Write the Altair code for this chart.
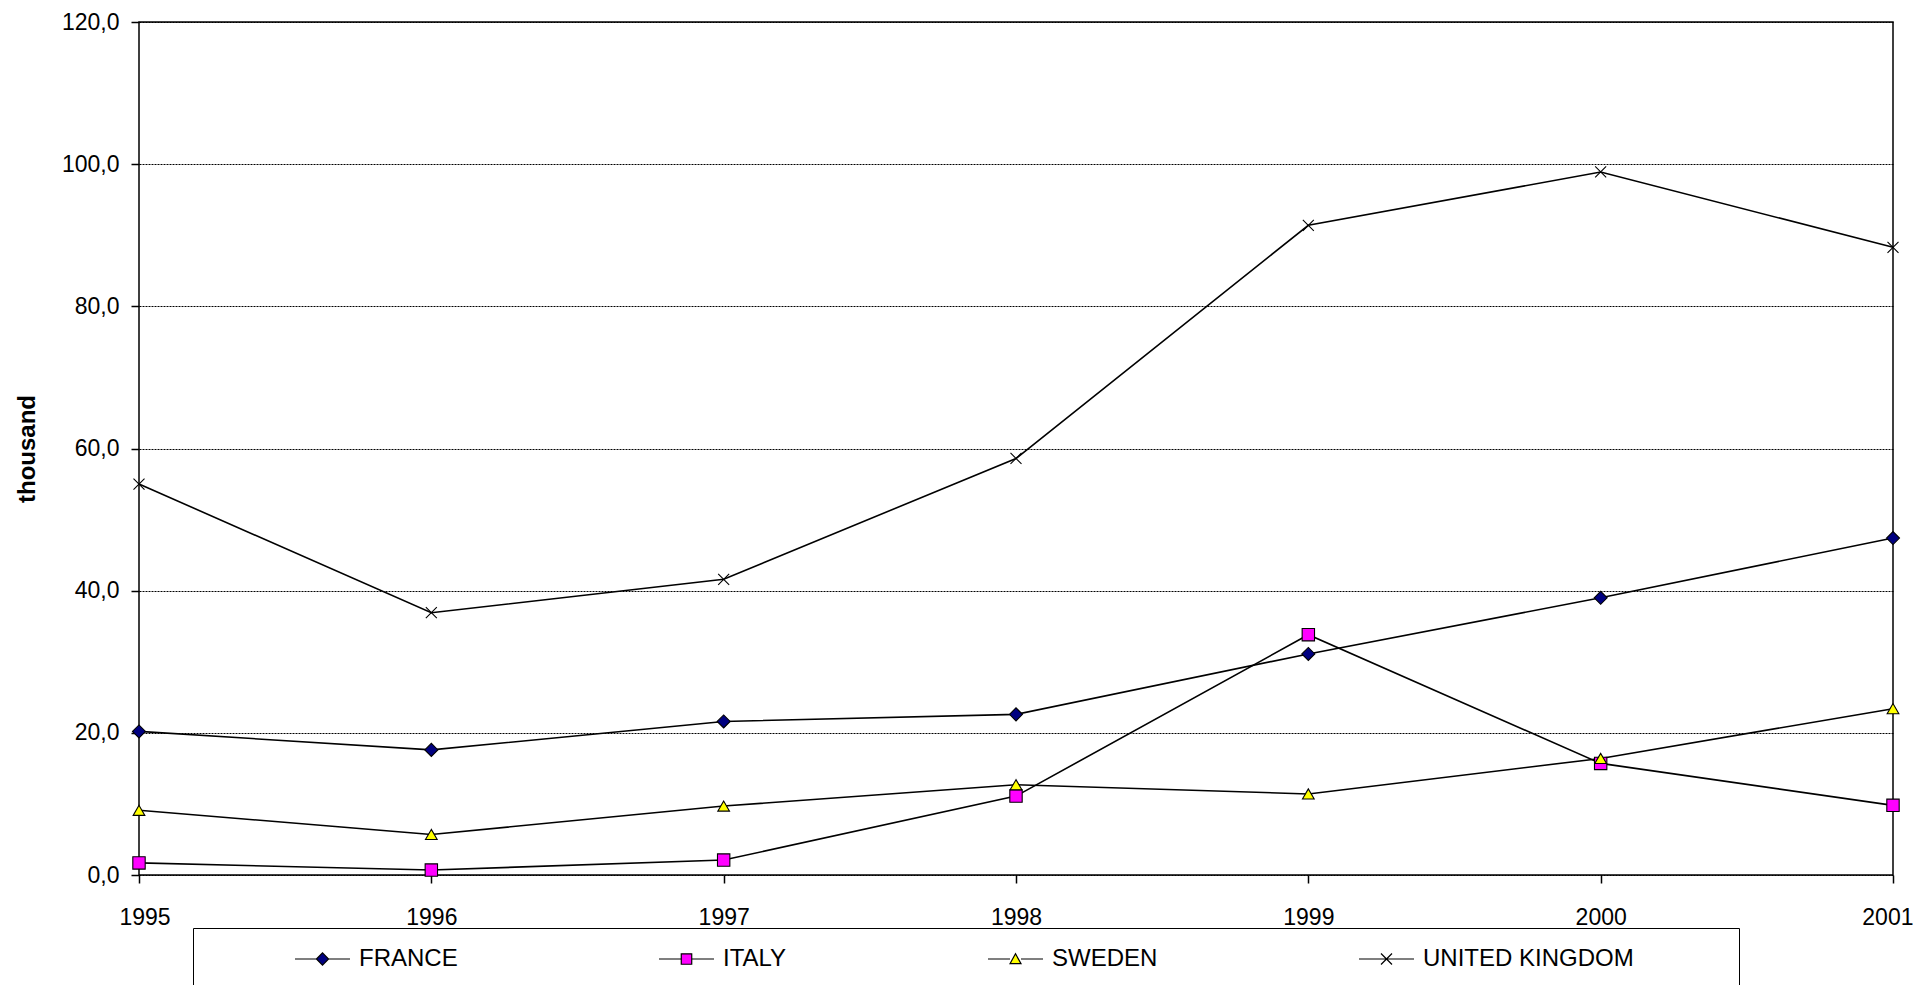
import altair as alt
import pandas as pd

years = [1995, 1996, 1997, 1998, 1999, 2000, 2001]
countries = ["FRANCE", "ITALY", "SWEDEN", "UNITED KINGDOM"]
france = [20.2, 17.6, 21.6, 22.6, 31.1, 39.0, 47.4]
italy = [1.7, 0.7, 2.1, 11.1, 33.8, 15.7, 9.8]
sweden = [9.1, 5.7, 9.7, 12.7, 11.4, 16.4, 23.4]
uk = [55.0, 36.9, 41.6, 58.6, 91.4, 98.9, 88.3]
y_ticks = [0, 20, 40, 60, 80, 100, 120]

series = {"FRANCE": france, "ITALY": italy, "SWEDEN": sweden, "UNITED KINGDOM": uk}
rows = []
for c in countries:
    for yr, v in zip(years, series[c]):
        rows.append({"year": yr, "value": v, "country": c})
df = pd.DataFrame(rows)

FONT = "Liberation Sans"
fills = ["#000080", "#FF00FF", "#FFFF00", "#000000"]
point_shapes = ["diamond", "square", "triangle-up", "M-1,-1L1,1M-1,1L1,-1"]
point_sizes = [169, 121, 121, 144]
legend_shapes = [
    "M-1,0L-0.22,0M-0.22,0L0,-0.22L0.22,0L0,0.22ZM0.22,0L1,0",
    "M-1,0L-0.19,0M-0.19,-0.19L0.19,-0.19L0.19,0.19L-0.19,0.19ZM0.19,0L1,0",
    "M-1,0L-0.2,0M-0.2,0.17L0,-0.19L0.2,0.17ZM0.2,0L1,0",
    "M-1,0L1,0M-0.2,-0.2L0.2,0.2M-0.2,0.2L0.2,-0.2",
]

x = alt.X(
    "year:Q",
    scale=alt.Scale(domain=[1995, 2001], nice=False, zero=False),
    axis=alt.Axis(
        values=years, format="d", title=None, grid=False, domain=False,
        tickSize=8, tickColor="black", tickWidth=1.5,
        labelFontSize=23, labelColor="black", labelPadding=23,
        labelFlush=True, labelFlushOffset=20,
        labelFont=FONT,
    ),
)
y = alt.Y(
    "value:Q",
    scale=alt.Scale(domain=[0, 120], nice=False),
    axis=alt.Axis(
        values=y_ticks, labelExpr="replace(format(datum.value, '.1f'), '.', ',')",
        grid=True, gridColor="black", gridDash=[2, 1], gridWidth=1,
        domain=False, tickSize=8, tickColor="black", tickWidth=1.5,
        labelFontSize=23, labelColor="black", labelPadding=12, labelFont=FONT,
        title="thousand", titleFontSize=24, titleFontWeight="bold", titleColor="black",
        titlePadding=22, titleFont=FONT,
    ),
)

lines = alt.Chart(df).mark_line(color="black", strokeWidth=1.6).encode(
    x=x, y=y, detail="country:N"
)

points = alt.Chart(df).mark_point(
    filled=True, stroke="black", strokeWidth=1.1, opacity=1
).encode(
    x=x, y=y,
    shape=alt.Shape("country:N", scale=alt.Scale(domain=countries, range=point_shapes), legend=None),
    fill=alt.Fill("country:N", scale=alt.Scale(domain=countries, range=fills), legend=None),
    size=alt.Size("country:N", scale=alt.Scale(domain=countries, range=point_sizes), legend=None),
)

# trailing blank room inside the legend frame after the last entry
pad_tail = "\u00a0" * 13 + "\u200b"
leg = alt.Legend(
    orient="none", legendX=54, legendY=906, direction="horizontal", title=None,
    labelFontSize=24, labelColor="black", labelFont=FONT, labelLimit=600,
    labelExpr="datum.label == 'UNITED KINGDOM' ? datum.label + '" + pad_tail + "' : datum.label",
    symbolSize=3025, symbolStrokeWidth=1.2, symbolStrokeColor="black",
    symbolOffset=83, labelOffset=8, columnPadding=117,
    padding=18, strokeColor="black", clipHeight=26,
)

legend_layer = alt.Chart(df).mark_point(
    filled=True, strokeWidth=1.2, opacity=1
).transform_filter("false").encode(
    shape=alt.Shape("country:N", scale=alt.Scale(domain=countries, range=legend_shapes), legend=leg),
    fill=alt.Fill("country:N", scale=alt.Scale(domain=countries, range=fills), legend=leg),
    stroke=alt.Stroke("country:N", scale=alt.Scale(domain=countries, range=["black"] * 4), legend=leg),
)

chart = alt.layer(lines, points, legend_layer).resolve_scale(
    shape="independent", fill="independent", size="independent", stroke="independent"
).properties(
    width=1754, height=853,
    padding={"left": 131, "top": 14, "right": 20, "bottom": 110},
    autosize=alt.AutoSizeParams(type="none"),
).configure(
    font=FONT
).configure_view(
    stroke="black", strokeWidth=1.5
)

chart.save("out.html", embed_options={"renderer": "svg", "actions": False})
